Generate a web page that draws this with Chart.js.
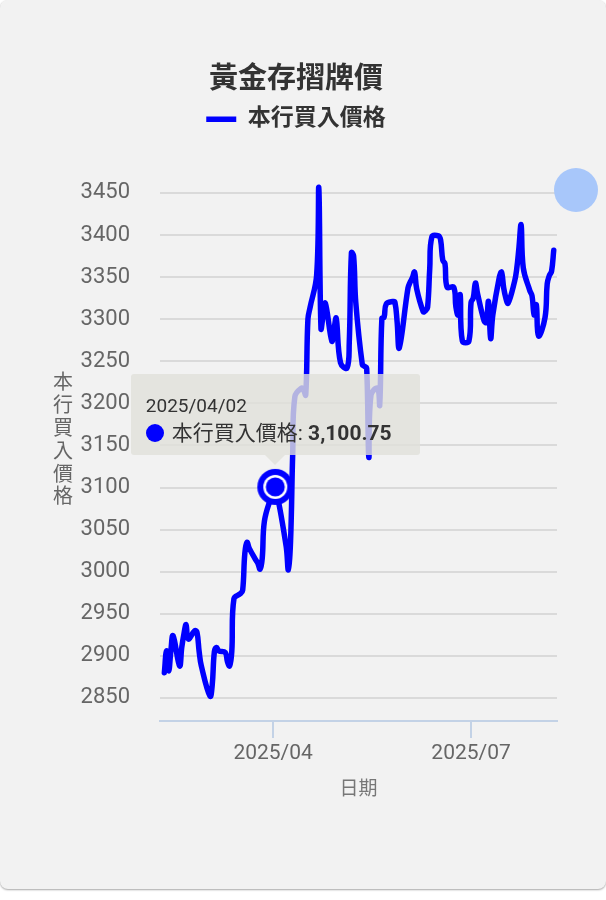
<!DOCTYPE html>
<html lang="zh-Hant">
<head>
<meta charset="utf-8">
<title>黃金存摺牌價</title>
<script src="https://cdn.jsdelivr.net/npm/chart.js@4.4.1/dist/chart.umd.min.js"></script>
<style>
  html, body { margin: 0; padding: 0; background: #ffffff; }
  body { width: 606px; height: 900px; position: relative; overflow: hidden;
         font-family: Roboto, 'Noto Sans CJK TC', sans-serif; }
  #card { position: absolute; left: 0; top: 0; width: 606px; height: 889px;
          background: #f2f2f2; border-radius: 8px; box-shadow: 0 1px 2px rgba(0,0,0,0.35); overflow: hidden; }
  #chart { position: absolute; left: 0; top: 0; }
  #fab { position: absolute; left: 554px; top: 168px; width: 44px; height: 44px;
         border-radius: 50%; background: #a8c7fa; }
  #tip { position: absolute; display: none; pointer-events: none;
         background: rgba(224, 224, 218, 0.8); border-radius: 3px;
         padding: 20px 28px 9px 15px; color: #333; white-space: nowrap; }
  #tip::after { content: ''; position: absolute; left: 50%; top: 100%; margin-left: -10px;
                border-left: 10px solid transparent; border-right: 10px solid transparent;
                border-top: 10px solid rgba(224, 224, 218, 0.8); }
  #tip .t { font-size: 19px; line-height: 23px; margin-bottom: 4px; }
  #tip .b { font-size: 21px; line-height: 25px; display: flex; align-items: center; }
  #tip .dot { width: 18px; height: 18px; border-radius: 50%; background: #0000ff; margin-right: 8px; }
  #tip b { font-weight: bold; }
</style>
</head>
<body>
<div id="card">
  <canvas id="chart" width="606" height="889"></canvas>
  <div id="fab"></div>
  <div id="tip"><div class="t"></div><div class="b"><span class="dot"></span><span class="lbl"></span><b></b></div></div>
</div>
<script>
// 黃金存摺 - 本行買入價格 (每營業日)
const dates = [
  '2025-02-10','2025-02-11','2025-02-12','2025-02-13','2025-02-14',
  '2025-02-17','2025-02-18','2025-02-19','2025-02-20','2025-02-21',
  '2025-02-24','2025-02-25','2025-02-26','2025-02-27',
  '2025-03-03','2025-03-04','2025-03-05','2025-03-06','2025-03-07',
  '2025-03-10','2025-03-11','2025-03-12','2025-03-13','2025-03-14',
  '2025-03-17','2025-03-18','2025-03-19','2025-03-20','2025-03-21',
  '2025-03-24','2025-03-25','2025-03-26','2025-03-27','2025-03-28',
  '2025-03-31','2025-04-01','2025-04-02',
  '2025-04-07','2025-04-08','2025-04-09','2025-04-10','2025-04-11',
  '2025-04-14','2025-04-15','2025-04-16','2025-04-17','2025-04-18',
  '2025-04-21','2025-04-22','2025-04-23','2025-04-24','2025-04-25',
  '2025-04-28','2025-04-29','2025-04-30','2025-05-02',
  '2025-05-05','2025-05-06','2025-05-07','2025-05-08','2025-05-09',
  '2025-05-12','2025-05-13','2025-05-14','2025-05-15','2025-05-16',
  '2025-05-19','2025-05-20','2025-05-21','2025-05-22','2025-05-23',
  '2025-05-26','2025-05-27','2025-05-28','2025-05-29',
  '2025-06-02','2025-06-03','2025-06-04','2025-06-05','2025-06-06',
  '2025-06-09','2025-06-10','2025-06-11','2025-06-12','2025-06-13',
  '2025-06-16','2025-06-17','2025-06-18','2025-06-19','2025-06-20',
  '2025-06-23','2025-06-24','2025-06-25','2025-06-26','2025-06-27',
  '2025-06-30','2025-07-01','2025-07-02','2025-07-03','2025-07-04',
  '2025-07-07','2025-07-08','2025-07-09','2025-07-10','2025-07-11',
  '2025-07-14','2025-07-15','2025-07-16','2025-07-17','2025-07-18',
  '2025-07-21','2025-07-22','2025-07-23','2025-07-24','2025-07-25',
  '2025-07-28','2025-07-29','2025-07-30','2025-07-31','2025-08-01',
  '2025-08-04','2025-08-05','2025-08-06','2025-08-07','2025-08-08'
];
const buyPrices = [
  2880, 2906, 2882, 2906, 2924,
  2888, 2910, 2926, 2937, 2920,
  2930, 2928, 2905, 2888,
  2852, 2865, 2905, 2910, 2906,
  2904, 2893, 2888, 2905, 2968,
  2974, 2978, 3022, 3035, 3028,
  3014, 3010, 3003, 3016, 3060,
  3088, 3093, 3100.75,
  3030, 3002, 3035, 3140, 3208,
  3218, 3216, 3210, 3300, 3314,
  3352, 3456, 3289, 3305, 3319,
  3274, 3288, 3301, 3248,
  3242, 3272, 3379, 3375, 3320,
  3246, 3244, 3242, 3136, 3210,
  3218, 3198, 3301, 3302, 3318,
  3321, 3320, 3297, 3266,
  3337, 3344, 3349, 3356, 3336,
  3309, 3310, 3314, 3360, 3398,
  3399, 3394, 3370, 3366, 3338,
  3338, 3315, 3305, 3329, 3274,
  3274, 3320, 3325, 3343, 3330,
  3298, 3296, 3321, 3277, 3305,
  3350, 3356, 3337, 3325, 3319,
  3345, 3360, 3385, 3412, 3361,
  3334, 3328, 3305, 3317, 3280,
  3302, 3342, 3352, 3357, 3382
];
const seriesLabel = '本行買入價格';
const yTicks = [2850, 2900, 2950, 3000, 3050, 3100, 3150, 3200, 3250, 3300, 3350, 3400, 3450];
const xTickDates = ['2025-04-01', '2025-07-01'];
const xTickLabels = ['2025/04', '2025/07'];
const activeDate = '2025-04-02';

const toTs = s => Date.parse(s + 'T00:00:00Z');
const pad = n => String(n).padStart(2, '0');
function fmtDate(ts) {
    const d = new Date(ts);
    return d.getUTCFullYear() + '/' + pad(d.getUTCMonth() + 1) + '/' + pad(d.getUTCDate());
}

Chart.defaults.font.family = "Roboto, 'Noto Sans CJK TC', sans-serif";

// hovered point: blue disc, white ring, blue centre
const ring = document.createElement('canvas');
ring.width = 40; ring.height = 40;
(function () {
    const c = ring.getContext('2d');
    [[18, '#0000ff'], [12, '#ffffff'], [9.5, '#0000ff']].forEach(([r, col]) => {
        c.beginPath(); c.arc(20, 20, r, 0, Math.PI * 2); c.fillStyle = col; c.fill();
    });
})();

// extra space under the legend
const legendGap = {
    id: 'legendGap',
    beforeInit(chart) {
        if (!chart.legend) return;
        const fit = chart.legend.fit;
        chart.legend.fit = function () { fit.call(this); this.height += 21; };
    }
};

// upright, stacked y axis title
const yTitle = {
    id: 'yTitle',
    afterDraw(chart, args, opts) {
        const {ctx, chartArea} = chart;
        const chars = Array.from(opts.text);
        const lh = 22.8;
        const y0 = (chartArea.top + chartArea.bottom) / 2 - (chars.length - 1) * lh / 2;
        ctx.save();
        ctx.font = "20px Roboto, 'Noto Sans CJK TC', sans-serif";
        ctx.fillStyle = opts.color;
        ctx.textAlign = 'center';
        ctx.textBaseline = 'middle';
        chars.forEach((ch, i) => ctx.fillText(ch, 63, y0 + i * lh));
        ctx.restore();
    }
};

function externalTip({chart, tooltip}) {
    const el = document.getElementById('tip');
    if (tooltip.opacity === 0 || !tooltip.dataPoints || !tooltip.dataPoints.length) {
        el.style.display = 'none';
        return;
    }
    const dp = tooltip.dataPoints[0];
    el.querySelector('.t').textContent = fmtDate(dp.parsed.x);
    el.querySelector('.lbl').textContent = dp.dataset.label + ':\u00a0';
    el.querySelector('b').textContent = dp.formattedValue;
    el.style.display = 'block';
    el.style.left = (chart.canvas.offsetLeft + tooltip.caretX - el.offsetWidth / 2) + 'px';
    el.style.top = (chart.canvas.offsetTop + tooltip.caretY - el.offsetHeight - 32) + 'px';
}

const points = dates.map((d, i) => ({x: toTs(d), y: buyPrices[i]}));

const chart = new Chart(document.getElementById('chart'), {
    type: 'line',
    data: {
        datasets: [{
            label: seriesLabel,
            data: points,
            borderColor: '#0000ff',
            backgroundColor: '#0000ff',
            borderWidth: 5.5,
            tension: 0.4,
            borderJoinStyle: 'round',
            borderCapStyle: 'round',
            pointRadius: 0,
            pointHoverRadius: 18,
            pointStyle: ring
        }]
    },
    options: {
        responsive: false,
        animation: false,
        events: [],
        layout: { padding: { top: 40, left: 35, right: 49, bottom: 83 } },
        scales: {
            x: {
                type: 'linear',
                min: toTs('2025-02-08'),
                max: toTs('2025-08-09') + 12 * 3600 * 1000,
                afterBuildTicks: s => { s.ticks = xTickDates.map(d => ({value: toTs(d)})); },
                ticks: {
                    autoSkip: false,
                    maxRotation: 0,
                    padding: 3,
                    color: '#666',
                    font: { size: 21 },
                    callback: (v, i) => xTickLabels[i]
                },
                grid: { drawOnChartArea: false, drawTicks: true, tickLength: 17, color: '#c3d2e6', lineWidth: 2 },
                border: { display: true, color: '#c3d2e6', width: 2 },
                title: { display: true, text: '日期', color: '#777', font: { size: 19 }, padding: { top: 10, bottom: 4 } }
            },
            y: {
                min: 2822.6,
                max: 3487,
                afterBuildTicks: s => { s.ticks = yTicks.map(v => ({value: v})); },
                afterFit: s => { s.width = 125; },
                ticks: { color: '#666', font: { size: 22 }, padding: 30, callback: v => String(v) },
                grid: { color: '#dadada', lineWidth: 2, drawTicks: false },
                border: { display: false }
            }
        },
        plugins: {
            title: {
                display: true,
                text: '黃金存摺牌價',
                color: '#333',
                font: { size: 29, weight: 'bold' },
                padding: { top: 23, bottom: 0 }
            },
            legend: {
                display: true,
                labels: {
                    color: '#333',
                    font: { size: 23, weight: 'bold' },
                    usePointStyle: true,
                    pointStyle: 'line',
                    pointStyleWidth: 30,
                    padding: 10
                }
            },
            tooltip: {
                enabled: false,
                external: externalTip
            },
            yTitle: { text: '本行買入價格', color: '#666' }
        }
    },
    plugins: [legendGap, yTitle]
});

// show the tooltip for the marked day
const activeIdx = dates.indexOf(activeDate);
const el = chart.getDatasetMeta(0).data[activeIdx];
chart.setActiveElements([{datasetIndex: 0, index: activeIdx}]);
chart.tooltip.setActiveElements([{datasetIndex: 0, index: activeIdx}], {x: el.x, y: el.y});
chart.update();
</script>
</body>
</html>
